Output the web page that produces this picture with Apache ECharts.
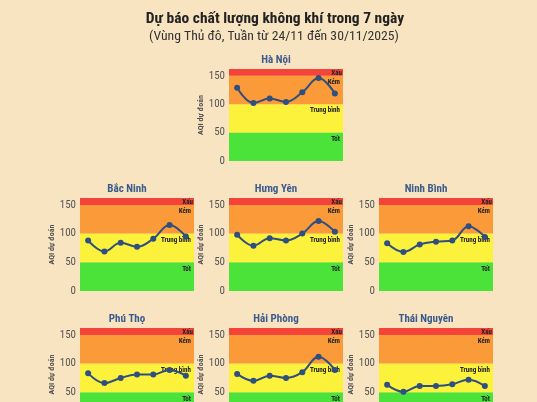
<!DOCTYPE html>
<html><head><meta charset="utf-8">
<script src="https://cdn.jsdelivr.net/npm/echarts@6/dist/echarts.min.js"></script>
<style>html,body{margin:0;padding:0;background:#f9e4c1;overflow:hidden}#c{width:537px;height:432px}</style>
</head><body><div id="c"></div>
<script>
const days = ['24/11','25/11','26/11','27/11','28/11','29/11','30/11'];
const haNoi = [129,102,110,104,121,146,119];
const bacNinh = [88,69,84,77,91,115,95];
const hungYen = [98,79,92,88,100,122,103];
const ninhBinh = [83,68,81,86,88,113,94];
const phuTho = [83,66,75,81,81,89,79];
const haiPhong = [82,70,79,75,85,112,89];
const thaiNguyen = [63,51,61,61,64,72,61];
const regions = ['Hà Nội','Bắc Ninh','Hưng Yên','Ninh Bình','Phú Thọ','Hải Phòng','Thái Nguyên'];
const regionValues = [haNoi,bacNinh,hungYen,ninhBinh,phuTho,haiPhong,thaiNguyen];
const yTicks = [0,50,100,150];
const yMax = 162;
const bandLimits = [0,50,100,150,162];
const bandNames = ['Tốt','Trung bình','Kém','Xấu'];

const FONT = "'Roboto Condensed','Liberation Sans Narrow','DejaVu Sans Condensed',Roboto,sans-serif";
const bandColors = ['#4be23a','#fdf23b','#fb9a39','#f4443a'];
const panels = [
  {left:229, top:69, height:92},
  {left:80, top:198, height:93},
  {left:229, top:198, height:93},
  {left:379, top:198, height:93},
  {left:80, top:328, height:93},
  {left:229, top:328, height:93},
  {left:379, top:328, height:93}
];
const W = 114;

const grid = [], xAxis = [], yAxis = [], series = [];
const title = [
  {text:'Dự báo chất lượng không khí trong 7 ngày', left:270, top:6, textAlign:'center',
   textStyle:{fontFamily:FONT, fontSize:15.5, fontWeight:'bold', color:'#222'}},
  {text:'(Vùng Thủ đô, Tuần từ 24/11 đến 30/11/2025)', left:269, top:25, textAlign:'center',
   textStyle:{fontFamily:FONT, fontSize:13.7, fontWeight:'normal', color:'#333'}}
];
panels.forEach((p,i)=>{
  grid.push({left:p.left, top:p.top, width:W, height:p.height});
  title.push({text:regions[i], left:p.left+W/2-15, top:p.top-19, textAlign:'center',
    textStyle:{fontFamily:FONT, fontSize:11, fontWeight:'bold', color:'#3b5b8f'}});
  xAxis.push({type:'category', gridIndex:i, data:days, boundaryGap:true, show:false});
  yAxis.push({type:'value', gridIndex:i, min:0, max:yMax, interval:50,
    axisLine:{show:false}, axisTick:{show:false}, splitLine:{show:false},
    axisLabel:{showMaxLabel:false, fontFamily:FONT, fontSize:11, color:'#555', margin:4},
    name:'AQI dự đoán', nameLocation:'middle', nameGap:22,
    nameTextStyle:{fontFamily:FONT, fontSize:8, fontWeight:'bold', color:'#555'}});
  const areas = bandNames.map((nm,k)=>[
    {yAxis:bandLimits[k], itemStyle:{color:bandColors[k]},
     label:{show:true, position:'insideTopRight', distance:k===3?1:3, formatter:nm,
            fontFamily:FONT, fontSize:7, fontWeight:'bold', color:'#222'}},
    {yAxis:bandLimits[k+1]}
  ]);
  series.push({type:'line', xAxisIndex:i, yAxisIndex:i, data:regionValues[i],
    smooth:0.4, symbol:'circle', symbolSize:6, z:5,
    lineStyle:{color:'#2f4f80', width:2}, itemStyle:{color:'#2f4f80'},
    markArea:{silent:true, data:areas}});
});
const chart = echarts.init(document.getElementById('c'), null, {renderer:'canvas'});
chart.setOption({backgroundColor:'#f9e4c1', animation:false, title, grid, xAxis, yAxis, series});
</script></body></html>
